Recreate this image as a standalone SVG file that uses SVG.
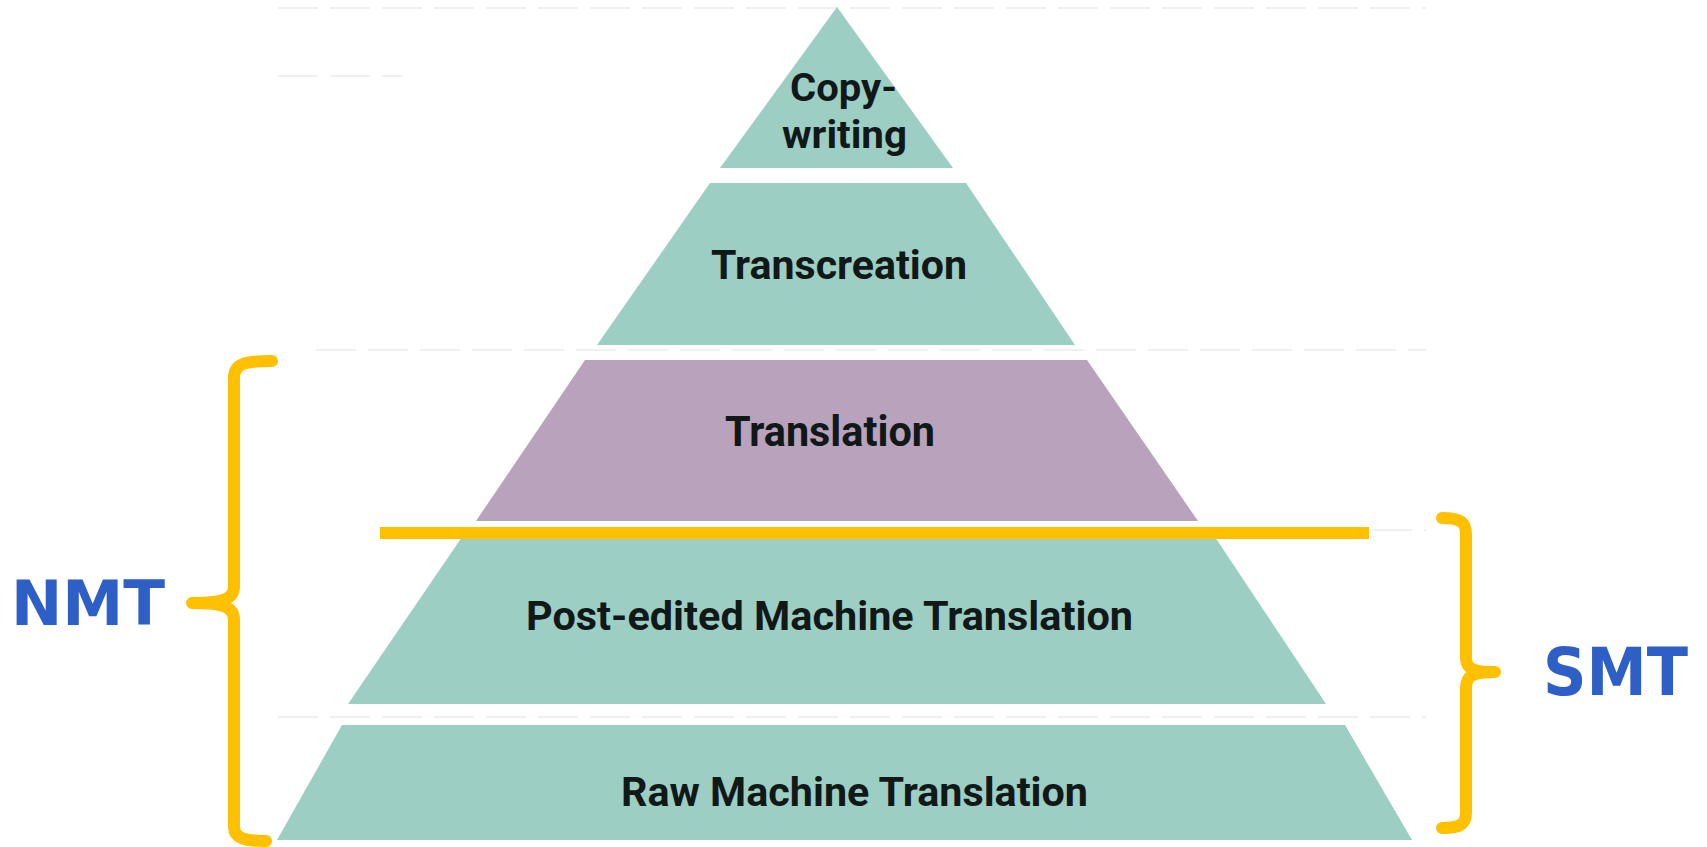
<svg xmlns="http://www.w3.org/2000/svg" width="1707" height="847" viewBox="0 0 1707 847">
<style>
.teal{fill:#9dcec3}
.purple{fill:#b8a2bc}
.lbl{font-family:Roboto,"Liberation Sans",sans-serif;font-weight:bold;fill:#111818;text-anchor:start}
.big{font-family:"DejaVu Sans",Verdana,sans-serif;font-weight:bold;fill:#2e5fc6}
.brace{fill:none;stroke:#ffc000;stroke-width:12;stroke-linecap:round;stroke-linejoin:round}
.faint{stroke:#f0f0f0;stroke-width:2;stroke-dasharray:40 12;fill:none}
</style>
<rect width="1707" height="847" fill="#ffffff"/>
<g id="background-lines">
<line class="faint" x1="278" y1="8" x2="1426" y2="8"/>
<line class="faint" x1="278" y1="76" x2="403" y2="76"/>
<line class="faint" x1="316" y1="350" x2="1426" y2="350"/>
<line class="faint" x1="1372" y1="530" x2="1426" y2="530"/>
<line class="faint" x1="278" y1="717" x2="1426" y2="717"/>
</g>
<g id="copywriting">
<polygon class="teal" points="837,7 953,168 720,168"/>
<text class="lbl" x="790" y="101" font-size="39" textLength="107" lengthAdjust="spacingAndGlyphs">Copy-</text>
<text class="lbl" x="782" y="148" font-size="39" textLength="125" lengthAdjust="spacingAndGlyphs">writing</text>
</g>
<g id="transcreation">
<polygon class="teal" points="710,183 966,183 1075,345 597,345"/>
<text class="lbl" x="711" y="279" font-size="41" textLength="256" lengthAdjust="spacingAndGlyphs">Transcreation</text>
</g>
<g id="translation">
<polygon class="purple" points="585,360 1087,360 1198,521 476,521"/>
<text class="lbl" x="725" y="446" font-size="42" textLength="210" lengthAdjust="spacingAndGlyphs">Translation</text>
</g>
<g id="post-edited-mt">
<polygon class="teal" points="462,537 1215,537 1326,704 348,704"/>
<text class="lbl" x="526" y="630" font-size="41" textLength="607" lengthAdjust="spacingAndGlyphs">Post-edited Machine Translation</text>
</g>
<g id="raw-mt">
<polygon class="teal" points="342,725 1345,725 1412,840 277,840"/>
<text class="lbl" x="621" y="806" font-size="41" textLength="467" lengthAdjust="spacingAndGlyphs">Raw Machine Translation</text>
</g>
<g id="connectors">
<line x1="380" y1="533" x2="1369" y2="533" stroke="#ffc000" stroke-width="12"/>
<path class="brace" d="M272,361 C244,361 234,364 234,378 L234,586 C234,598 226,603 192,603 C226,603 234,608 234,620 L234,827 C234,838 244,841 266,841"/>
<path class="brace" d="M1442,518 C1461,518 1466,522 1466,535 L1466,658 C1466,668 1472,672 1495,672 C1472,672 1466,676 1466,688 L1466,812 C1466,824 1461,828 1442,828"/>
</g>
<g id="nmt-label">
<text class="big" x="11" y="625" font-size="63" textLength="154" lengthAdjust="spacingAndGlyphs">NMT</text>
</g>
<g id="smt-label">
<text class="big" x="1543" y="695" font-size="65" textLength="145" lengthAdjust="spacingAndGlyphs">SMT</text>
</g>
</svg>
